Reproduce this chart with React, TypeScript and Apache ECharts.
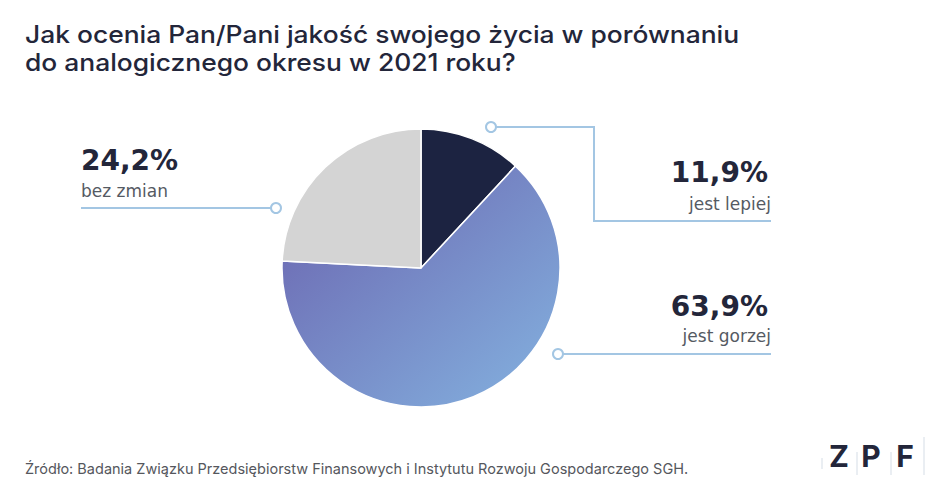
import React, { useEffect, useRef } from "react";
import * as echarts from "echarts";

const titleLines = [
  "Jak ocenia Pan/Pani jakość swojego życia w porównaniu",
  "do analogicznego okresu w 2021 roku?",
];
const categories = ["jest lepiej", "jest gorzej", "bez zmian"];
const values = [11.9, 63.9, 24.2];
const sourceText =
  "Źródło: Badania Związku Przedsiębiorstw Finansowych i Instytutu Rozwoju Gospodarczego SGH.";
const logoLetters = ["Z", "P", "F"];

const fmt = (v: number) => `${v.toFixed(1).replace(".", ",")}%`;

const LINE = "#a3c6e3";
const DARK = "#23263a";
const GREY_TEXT = "#555a63";
const FONT = "Inter, 'Noto Sans', sans-serif";
const WIDE = "'DejaVu Sans', sans-serif";

export default function App() {
  const ref = useRef<HTMLDivElement>(null);
  useEffect(() => {
    if (!ref.current) return;
    const chart = echarts.init(ref.current, null, { renderer: "svg" });

    const sliceColors: any[] = [
      "#1c2341",
      new echarts.graphic.LinearGradient(0, 0, 1, 1, [
        { offset: 0, color: "#6a62ae" },
        { offset: 1, color: "#84b3e0" },
      ]),
      "#d4d4d4",
    ];

    const txt = (
      text: string,
      x: number,
      y: number,
      size: number,
      weight: number,
      fill: string,
      align: string = "left",
      family: string = FONT,
      scaleX: number = 1
    ) => ({
      type: "text",
      x,
      y,
      scaleX,
      silent: true,
      style: {
        text,
        fill,
        font: `${weight} ${size}px ${family}`,
        textAlign: align,
        textVerticalAlign: "middle",
        align,
        verticalAlign: "middle",
      },
    });

    const line = (x1: number, y1: number, x2: number, y2: number) => ({
      type: "line",
      silent: true,
      shape: { x1, y1, x2, y2 },
      style: { stroke: LINE, lineWidth: 2 },
    });
    const poly = (points: number[][]) => ({
      type: "polyline",
      silent: true,
      shape: { points },
      style: { stroke: LINE, lineWidth: 2, fill: null },
    });
    const dot = (cx: number, cy: number) => ({
      type: "circle",
      silent: true,
      shape: { cx, cy, r: 5 },
      style: { stroke: LINE, lineWidth: 2, fill: "#ffffff" },
      z: 10,
    });
    const sep = (x: number, y1: number, y2: number) => ({
      type: "line",
      silent: true,
      shape: { x1: x, y1, x2: x, y2 },
      style: { stroke: "#d5dde6", lineWidth: 1 },
    });

    chart.setOption({
      animation: false,
      backgroundColor: "#ffffff",
      series: [
        {
          type: "pie",
          center: [421, 268],
          radius: [0, 139],
          startAngle: 90,
          clockwise: true,
          label: { show: false },
          labelLine: { show: false },
          silent: true,
          itemStyle: { borderColor: "#ffffff", borderWidth: 1.5 },
          data: categories.map((name, i) => ({
            name,
            value: values[i],
            itemStyle: { color: sliceColors[i] },
          })),
        },
      ],
      graphic: [
        txt(titleLines[0], 25, 34, 24, 500, DARK, "left", FONT, 1.1),
        txt(titleLines[1], 25, 62, 24, 500, DARK, "left", FONT, 1.1),
        // bez zmian (left)
        txt(fmt(values[2]), 81, 160, 28, 700, DARK, "left", WIDE),
        txt(categories[2], 81, 191, 17, 400, GREY_TEXT, "left", WIDE),
        line(81, 208, 271, 208),
        dot(276, 208),
        // jest lepiej (right top)
        poly([
          [496, 127],
          [594, 127],
          [594, 221],
          [771, 221],
        ]),
        dot(491, 127),
        txt(fmt(values[0]), 768, 172, 28, 700, DARK, "right", WIDE),
        txt(categories[0], 771, 204, 17, 400, GREY_TEXT, "right", WIDE),
        // jest gorzej (right bottom)
        txt(fmt(values[1]), 768, 306, 28, 700, DARK, "right", WIDE),
        txt(categories[1], 771, 336, 17, 400, GREY_TEXT, "right", WIDE),
        line(563, 354, 771, 354),
        dot(558, 354),
        // source
        txt(sourceText, 25, 468, 14.5, 400, "#55575d"),
        // logo
        sep(822, 458, 469),
        sep(857, 452, 475),
        sep(891, 452, 475),
        sep(924, 437, 475),
        ...logoLetters.map((l, i) =>
          txt(l, [839, 871, 905][i], 456, 30, 700, DARK, "center")
        ),
      ],
    } as any);
    return () => chart.dispose();
  }, []);
  return (
    <div
      ref={ref}
      style={{ position: "fixed", left: 0, top: 0, width: 945, height: 485 }}
    />
  );
}
